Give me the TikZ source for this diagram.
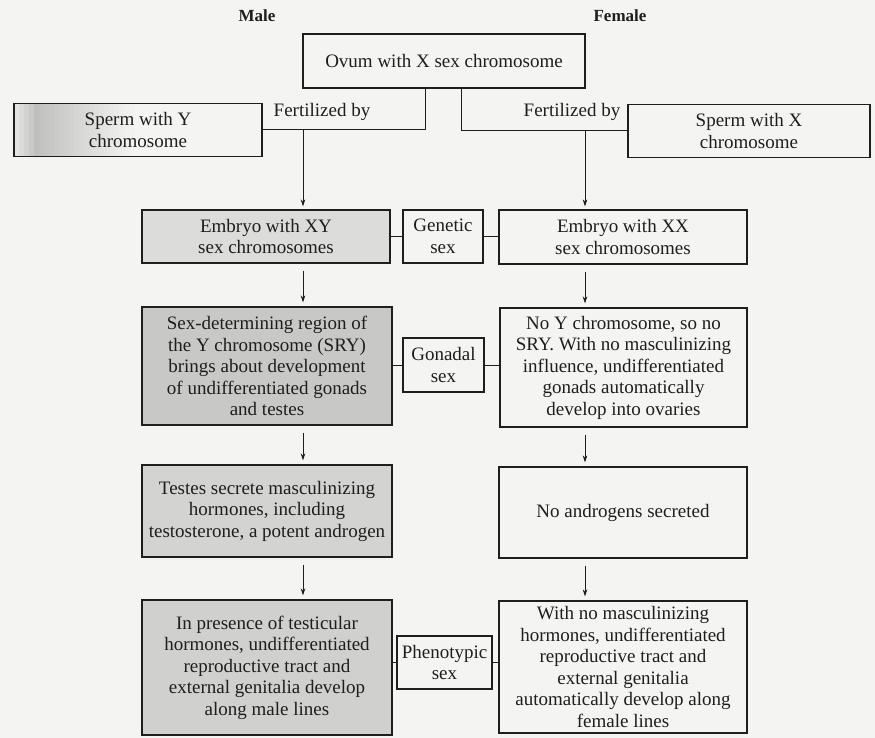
\documentclass[tikz,border=0pt]{standalone}
\usepackage{fontspec}
\setmainfont{Liberation Serif}
\usetikzlibrary{arrows.meta}
\definecolor{paper}{HTML}{F4F4F2}
\definecolor{ink}{HTML}{1E1E1E}
\definecolor{greyA}{HTML}{DCDCDA}
\definecolor{greyB}{HTML}{C8C8C6}
\definecolor{greyC}{HTML}{D3D3D1}
\definecolor{greyD}{HTML}{D0D0CE}
\begin{document}
\begin{tikzpicture}[x=1pt,y=-1pt,
  box/.style={draw=ink, line width=1.1pt, align=center, inner sep=1pt,
    text=ink, fill=paper, font=\fontsize{19}{21.5}\selectfont},
  tag/.style={box},
  plain/.style={text=ink, font=\fontsize{19}{21.5}\selectfont},
  head/.style={text=ink, font=\bfseries\fontsize{17}{20}\selectfont},
  link/.style={draw=ink, line width=1pt},
  arr/.style={link, -{Stealth[length=7pt,width=4.5pt]}},
]
% page
\useasboundingbox (0,0) rectangle (875,738);
\fill[paper] (0,0) rectangle (875,738);

% column headings
\node[head] (male) at (257,16) {Male};
\node[head] (female) at (620,16) {Female};

% top row
\node[box, minimum width=282pt, minimum height=54pt] (ovum) at (444,61)
  {Ovum with X sex chromosome};
\node[box, minimum width=248pt, minimum height=53pt,
  path picture={
    \foreach \i in {0,...,23}{
      \pgfmathsetmacro{\tone}{max(0, 26 - 1.1*\i - (\i<4 ? (4-\i)*5 : 0))}
      \fill[black!\tone!paper]
        ([xshift=5*\i pt]path picture bounding box.south west) rectangle
        ([xshift=5*\i pt+5.2pt]path picture bounding box.north west);
    }}]
  (spermY) at (138,130) {Sperm with Y\\chromosome};
\node[box, minimum width=242pt, minimum height=53pt] (spermX) at (749,131)
  {Sperm with X\\chromosome};
\node[plain] (fertL) at (322,112) {Fertilized by};
\node[plain] (fertR) at (572,112) {Fertilized by};

% genetic sex row
\node[box, fill=greyA, minimum width=248pt, minimum height=53pt] (embXY) at (266,236.5)
  {Embryo with XY\\sex chromosomes};
\node[tag, minimum width=80pt, minimum height=53pt] (genetic) at (443,236.5)
  {Genetic\\sex};
\node[box, minimum width=248pt, minimum height=54pt] (embXX) at (623,237)
  {Embryo with XX\\sex chromosomes};

% gonadal sex row
\node[box, fill=greyB, minimum width=250pt, minimum height=118pt] (sry) at (267,366)
  {Sex-determining region of\\the Y chromosome (SRY)\\brings about development\\of undifferentiated gonads\\and testes};
\node[tag, minimum width=81pt, minimum height=54pt] (gonadal) at (443.5,365)
  {Gonadal\\sex};
\node[box, minimum width=247pt, minimum height=119pt] (noY) at (623.5,367.5)
  {No Y chromosome, so no\\SRY. With no masculinizing\\influence, undifferentiated\\gonads automatically\\develop into ovaries};

% hormone row
\node[box, fill=greyC, minimum width=250pt, minimum height=92pt] (testes) at (267,511)
  {Testes secrete masculinizing\\hormones, including\\testosterone, a potent androgen};
\node[box, minimum width=248pt, minimum height=91pt] (noAnd) at (623,512.5)
  {No androgens secreted};

% phenotypic sex row
\node[box, fill=greyD, minimum width=250pt, minimum height=135pt] (maleEnd) at (267,667.5)
  {In presence of testicular\\hormones, undifferentiated\\reproductive tract and\\external genitalia develop\\along male lines};
\node[tag, minimum width=95pt, minimum height=53pt] (pheno) at (444.5,662.5)
  {Phenotypic\\sex};
\node[box, minimum width=248pt, minimum height=132pt] (femEnd) at (623,667)
  {With no masculinizing\\hormones, undifferentiated\\reproductive tract and\\external genitalia\\automatically develop along\\female lines};

% arrow columns
\coordinate (colL) at (303,0);
\coordinate (colR) at (585,0);

% fertilization branches
\draw[link] ([xshift=-19pt]ovum.south) |- (spermY.east);
\draw[link] ([xshift=17pt]ovum.south) |- (spermX.west);
\draw[arr, shorten >=3pt] (spermY.east -| colL) -- (embXY.north -| colL);
\draw[arr, shorten >=3pt] (spermX.west -| colR) -- (embXX.north -| colR);

% downward steps
\draw[arr, shorten <=7pt, shorten >=4pt] (embXY.south -| colL) -- (sry.north -| colL);
\draw[arr, shorten <=7pt, shorten >=4pt] (sry.south -| colL) -- (testes.north -| colL);
\draw[arr, shorten <=7pt, shorten >=4pt] (testes.south -| colL) -- (maleEnd.north -| colL);
\draw[arr, shorten <=7pt, shorten >=4pt] (embXX.south -| colR) -- (noY.north -| colR);
\draw[arr, shorten <=7pt, shorten >=4pt] (noY.south -| colR) -- (noAnd.north -| colR);
\draw[arr, shorten <=7pt, shorten >=4pt] (noAnd.south -| colR) -- (femEnd.north -| colR);

% side ties to the middle labels
\draw[link] (genetic.west -| embXY.east) -- (genetic.west);
\draw[link] (genetic.east) -- (genetic.east -| embXX.west);
\draw[link] (gonadal.west -| sry.east) -- (gonadal.west);
\draw[link] (gonadal.east) -- (gonadal.east -| noY.west);
\draw[link] (pheno.west -| maleEnd.east) -- (pheno.west);
\draw[link] (pheno.east) -- (pheno.east -| femEnd.west);
\end{tikzpicture}
\end{document}
